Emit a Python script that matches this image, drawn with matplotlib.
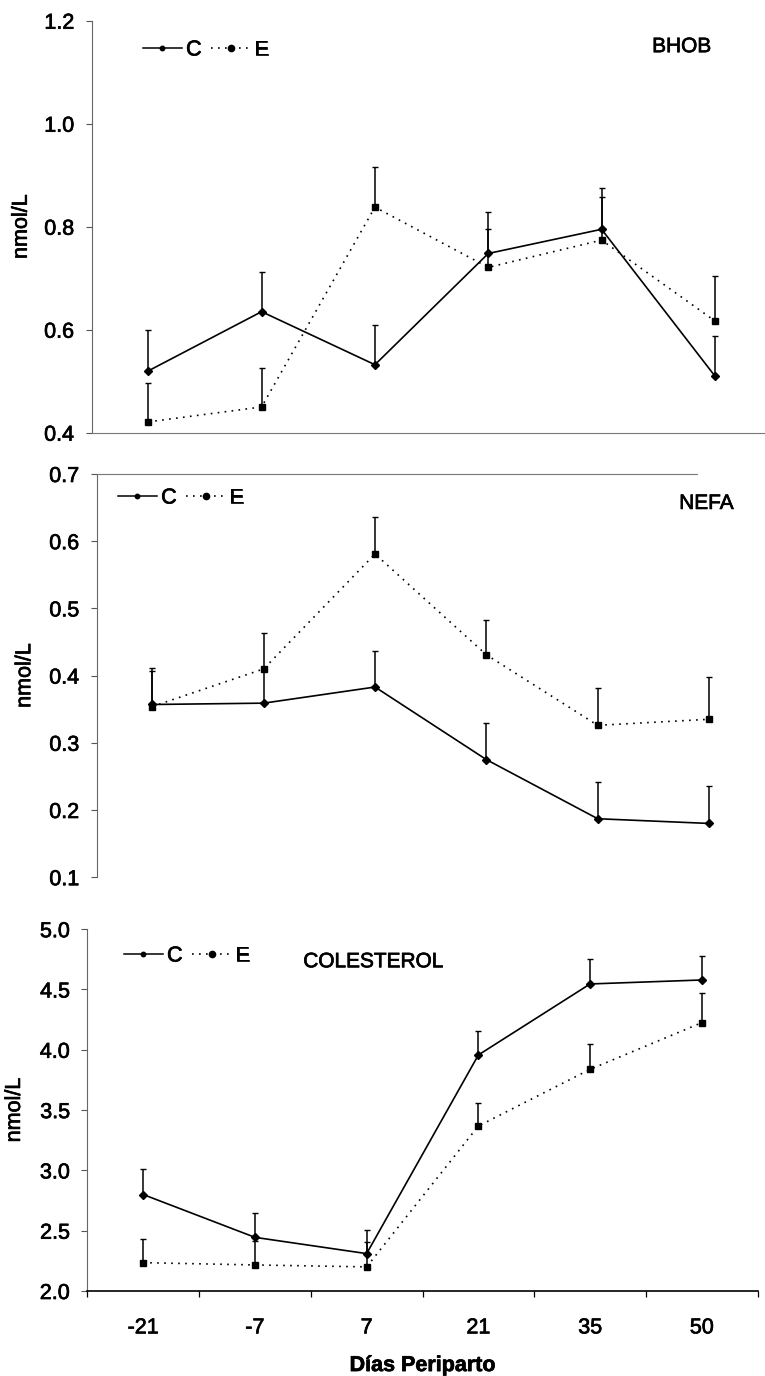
import numpy as np
import matplotlib
matplotlib.use("Agg")
import matplotlib.pyplot as plt
import matplotlib.patheffects as pe
from matplotlib.lines import Line2D
from matplotlib.text import Text

plt.rcParams['font.family'] = ['Liberation Sans', 'DejaVu Sans']

dias = ['-21', '-7', '7', '21', '35', '50']

# BHOB (mean and upper SE) for control (C) and treated (E)
bhob_c = [0.52, 0.635, 0.532, 0.748, 0.795, 0.51]
bhob_c_se = [0.08, 0.078, 0.078, 0.08, 0.08, 0.078]
bhob_e = [0.421, 0.45, 0.838, 0.721, 0.774, 0.617]
bhob_e_se = [0.075, 0.076, 0.077, 0.075, 0.083, 0.088]

# NEFA
nefa_c = [0.357, 0.359, 0.383, 0.275, 0.187, 0.180]
nefa_c_se = [0.055, 0.05, 0.054, 0.054, 0.055, 0.055]
nefa_e = [0.354, 0.410, 0.581, 0.431, 0.326, 0.335]
nefa_e_se = [0.053, 0.054, 0.055, 0.051, 0.056, 0.063]

# Colesterol
col_c = [2.80, 2.445, 2.31, 3.957, 4.546, 4.579]
col_c_se = [0.21, 0.20, 0.195, 0.20, 0.207, 0.20]
col_e = [2.235, 2.216, 2.20, 3.368, 3.838, 4.225]
col_e_se = [0.20, 0.20, 0.21, 0.19, 0.21, 0.25]

W, H = 765, 1376
FS = 15.5
DOT = (0, (1, 3.2))


def px_axes(fig, x0, x1, ytop, ybot):
    return fig.add_axes([x0 / W, 1 - ybot / H, (x1 - x0) / W, (ybot - ytop) / H])


def draw_panel(ax, c, c_se, e, e_se, ylim, yticks, title, title_xy, leg_xy, ylab_x):
    x = np.arange(len(dias))
    for m, se in ((c, c_se), (e, e_se)):
        ax.errorbar(x, m, yerr=[np.zeros(len(m)), se], fmt='none', ecolor='k',
                    elinewidth=1.1, capsize=2.2, capthick=1.0, zorder=2)
    ax.plot(x, e, color='k', lw=1.2, linestyle=DOT, marker='s', ms=4.5, zorder=3)
    ax.plot(x, c, color='k', lw=1.2, linestyle='-', marker='D', ms=3.8, zorder=4)

    ax.set_xlim(-0.5, 5.5)
    ax.set_ylim(*ylim)
    ax.set_yticks(yticks)
    ax.set_yticklabels([f"{t:.1f}" for t in yticks])
    ax.tick_params(axis='y', direction='out', length=4, width=0.8, color='#555555',
                   pad=8.5, labelsize=FS)
    ax.set_ylabel('nmol/L', fontsize=FS)
    ax.yaxis.set_label_coords(ylab_x, 0.5)

    ax.spines['left'].set_color('#666666')
    ax.spines['left'].set_linewidth(0.8)
    ax.spines['right'].set_visible(False)
    ax.spines['top'].set_visible(False)
    ax.spines['bottom'].set_visible(False)
    ax.set_xticks([])

    ax.text(*title_xy, title, transform=ax.transAxes, fontsize=FS - 0.5,
            ha='center', va='center')

    handles = [Line2D([], [], color='k', lw=1.1, marker='o', ms=3.2),
               Line2D([], [], color='k', lw=1.2, linestyle=DOT, marker='o', ms=4.5)]
    ax.legend(handles, ['C', 'E'], ncol=2, frameon=False, fontsize=FS,
              loc='center left', bbox_to_anchor=leg_xy, borderaxespad=0,
              borderpad=0, handlelength=1.8, handletextpad=0.2,
              columnspacing=0.45, numpoints=1)


fig = plt.figure(figsize=(W / 100, H / 100), dpi=100)

ax1 = px_axes(fig, 91.6, 771.6, 20.7, 432.7)
draw_panel(ax1, bhob_c, bhob_c_se, bhob_e, bhob_e_se, (0.4, 1.2),
           [0.4, 0.6, 0.8, 1.0, 1.2], 'BHOB', (0.868, 0.937), (0.0756, 0.929), -0.088)
ax1.spines['bottom'].set_visible(True)
ax1.spines['bottom'].set_linestyle((0, (1, 1)))
ax1.spines['bottom'].set_color('#777777')
ax1.spines['bottom'].set_linewidth(0.8)

ax2 = px_axes(fig, 96.7, 764.7, 474, 877.2)
draw_panel(ax2, nefa_c, nefa_c_se, nefa_e, nefa_e_se, (0.1, 0.7),
           [0.1, 0.2, 0.3, 0.4, 0.5, 0.6, 0.7], 'NEFA', (0.913, 0.927), (0.032, 0.9405),
           -0.092)
ax2.spines['top'].set_visible(True)
ax2.spines['top'].set_linestyle((0, (1, 1)))
ax2.spines['top'].set_color('#777777')
ax2.spines['top'].set_linewidth(0.8)
ax2.spines['top'].set_bounds(-0.5, 4.89)

ax3 = px_axes(fig, 87.3, 757.7, 929.2, 1291)
draw_panel(ax3, col_c, col_c_se, col_e, col_e_se, (2.0, 5.0),
           [2.0, 2.5, 3.0, 3.5, 4.0, 4.5, 5.0], 'COLESTEROL', (0.427, 0.910),
           (0.0547, 0.926), -0.093)
ax3.spines['left'].set_linestyle((0, (6, 1, 1, 1)))
ax3.spines['bottom'].set_visible(True)
ax3.spines['bottom'].set_color('k')
ax3.spines['bottom'].set_linewidth(1.2)
ax3.set_xticks(np.arange(len(dias)))
ax3.set_xticklabels(dias)
ax3.set_xticks(np.arange(-0.5, 6.0, 1.0), minor=True)
ax3.tick_params(axis='x', which='major', length=0, pad=19, labelsize=FS)
ax3.tick_params(axis='x', which='minor', direction='out', length=4, width=0.9)
ax3.set_xlabel('Días Periparto', fontsize=FS, fontweight='bold', labelpad=12)

# slightly heavier strokes on all lettering
for t in fig.findobj(Text):
    t.set_path_effects([pe.withStroke(linewidth=0.5, foreground='black')])

fig.savefig('out.png', dpi=100)
